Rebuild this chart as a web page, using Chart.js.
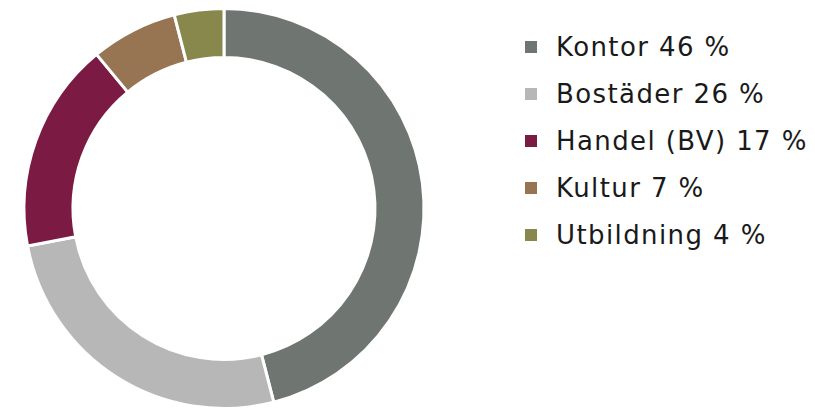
<!DOCTYPE html>
<html>
<head>
<meta charset="utf-8">
<script src="https://cdn.jsdelivr.net/npm/chart.js@4.4.0/dist/chart.umd.min.js"></script>
<style>
  html, body { margin: 0; padding: 0; background: #fff; overflow: hidden; }
  #wrap { position: relative; width: 815px; height: 408px; }
  #chartBox { position: absolute; left: 0; top: 0; width: 448px; height: 410px; }
  #legend { position: absolute; left: 525px; top: 24px; margin: 0; padding: 0; list-style: none;
    font-family: Verdana, "DejaVu Sans", sans-serif; font-size: 26px; letter-spacing: 1.4px; color: #1a1a1a; }
  #legend li { height: 47px; line-height: 47px; white-space: nowrap; }
  #legend span.box { display: inline-block; width: 12px; height: 12px; margin-right: 19px; vertical-align: middle; position: relative; top: -2px; }
</style>
</head>
<body>
<div id="wrap">
  <div id="chartBox"><canvas id="myChart"></canvas></div>
  <ul id="legend"></ul>
</div>
<script>
var labels = ["Kontor", "Bostäder", "Handel (BV)", "Kultur", "Utbildning"];
var values = [46, 26, 17, 7, 4];
var colors = ["#6f7570", "#b6b7b6", "#7b1a42", "#977552", "#88884c"];

var chart = new Chart(document.getElementById("myChart"), {
  type: 'doughnut',
  data: {
    labels: labels,
    datasets: [{
      data: values,
      backgroundColor: colors,
      borderColor: "#ffffff",
      borderWidth: 3
    }]
  },
  options: {
    responsive: true,
    maintainAspectRatio: false,
    animation: false,
    cutout: '75.5%',
    layout: { padding: { top: 7, bottom: 0, left: 0, right: 0 } },
    plugins: {
      legend: { display: false },
      tooltip: { enabled: false }
    }
  }
});

// legend next to the chart, built from the same arrays
var ul = document.getElementById("legend");
labels.forEach(function (l, i) {
  var li = document.createElement("li");
  var box = document.createElement("span");
  box.className = "box";
  box.style.background = colors[i];
  li.appendChild(box);
  li.appendChild(document.createTextNode(l + " " + values[i] + " %"));
  ul.appendChild(li);
});
</script>
</body>
</html>
